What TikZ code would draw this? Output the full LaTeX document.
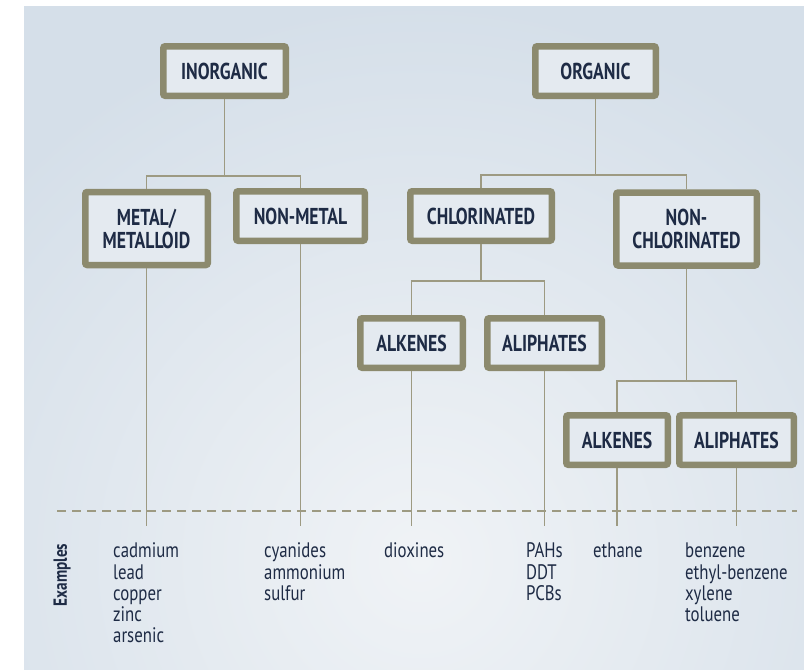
\documentclass[tikz,border=0pt]{standalone}
\usepackage{fontspec}
\newfontfamily\dinfont{PT Sans}[FakeStretch=0.77]
\newfontfamily\dinwide{PT Sans}[FakeStretch=0.8]
\usetikzlibrary{calc}
\definecolor{Edge}{HTML}{8C8A6E}
\definecolor{BoxFill}{HTML}{E4EAF0}
\definecolor{Ink}{HTML}{1E2B45}
\definecolor{Link}{HTML}{9D9A82}
\definecolor{BgDark}{HTML}{D5DFE9}
\definecolor{BgLight}{HTML}{F0F3F6}

\begin{document}
\begin{tikzpicture}[x=1pt,y=-1pt]
    \tikzset{
      class/.style={draw=Edge,line width=6.5pt,fill=BoxFill,rounded corners=2pt,inner sep=0pt,
                    align=center,text=Ink,minimum height=49.5pt,
                    font=\dinfont\bfseries\fontsize{23}{23}\selectfont},
      tall/.style={minimum height=73pt},
      link/.style={draw=Link,line width=1.8pt},
      sample/.style={anchor=north west,inner sep=0pt,align=left,text=Ink,
                     font=\dinwide\fontsize{21}{21}\selectfont}
    }
    \useasboundingbox (0,0) rectangle (804,670);
    \begin{scope}
      \clip (24,6) rectangle (804,670);
      \fill[BgDark] (24,6) rectangle (804,670);
      \shade[inner color=BgLight,outer color=BgDark] (420,560) circle (560);
    \end{scope}
    % classes
    \node[class,minimum width=122.5] (inorg) at (224.5,71) {INORGANIC};
    \node[class,minimum width=120.5] (org) at (595.5,71) {ORGANIC};
    \node[class,tall,minimum width=122.5] (metal) at (146.5,228.5) {METAL/\\METALLOID};
    \node[class,minimum width=128.5] (nonmetal) at (300.5,216) {NON-METAL};
    \node[class,minimum width=141.5] (chlor) at (481,216) {CHLORINATED};
    \node[class,tall,minimum width=140.5] (nonchlor) at (686.5,229) {NON-\\CHLORINATED};
    \node[class,minimum width=102.5] (alkA) at (411.5,343) {ALKENES};
    \node[class,minimum width=114.5] (aliA) at (544.5,343) {ALIPHATES};
    \node[class,minimum width=101.5] (alkB) at (617,440) {ALKENES};
    \node[class,minimum width=114.5] (aliB) at (736.5,440) {ALIPHATES};
    % tree links
    \draw[link] (inorg.south) -- ++(0,77) coordinate (barA);
    \draw[link] (metal.north) |- (barA) -| (nonmetal.north);
    \draw[link] (org.south) -- ++(0,76) coordinate (barB);
    \draw[link] (chlor.north) |- (barB) -| (nonchlor.north);
    \draw[link] (chlor.south) -- ++(0,37) coordinate (barC);
    \draw[link] (alkA.north) |- (barC) -| (aliA.north);
    \draw[link] (nonchlor.south) -- ++(0,112) coordinate (barD);
    \draw[link] (alkB.north) |- (barD) -| (aliB.north);
    % examples
    \coordinate (cut) at (0,526);
    \coordinate (dashL) at (57,511);
    \coordinate (dashR) at (797,511);
    \draw[Link,line width=1.5pt,dash pattern=on 9pt off 6pt] (dashL) -- (dashR);
    \foreach \leaf in {metal,nonmetal,alkA,aliA,alkB,aliB}
      \draw[link] (\leaf.south) -- (\leaf.south |- cut);
    \node[rotate=90,text=Ink,font=\dinwide\bfseries\fontsize{19}{20}\selectfont] (exlabel) at (62,575) {Examples};
    \node[sample] (exmetal) at (113,542.3) {\strut cadmium\\lead\\copper\\zinc\\arsenic};
    \node[sample] (exnonmetal) at (264,542.3) {\strut cyanides\\ammonium\\sulfur};
    \node[sample] (exalkA) at (384,542.3) {\strut dioxines};
    \node[sample] (exaliA) at (526,542.3) {\strut PAHs\\DDT\\PCBs};
    \node[sample] (exalkB) at (593,542.3) {\strut ethane};
    \node[sample] (exaliB) at (685,542.3) {\strut benzene\\ethyl-benzene\\xylene\\toluene};
\end{tikzpicture}
\end{document}
